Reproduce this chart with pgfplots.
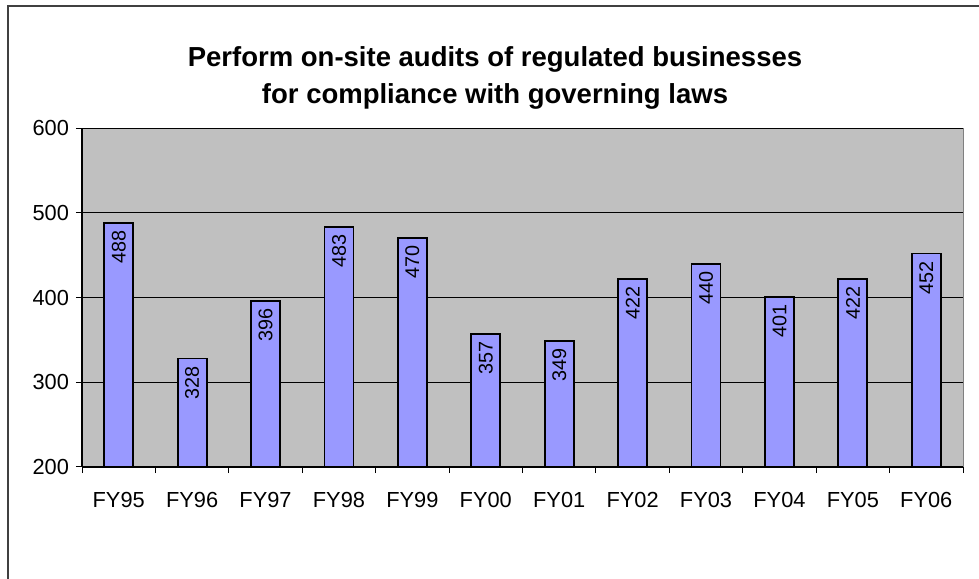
\documentclass[border=0pt]{standalone}
\usepackage{pgfplots}
\pgfplotsset{compat=1.18}
\usepackage{fontspec}
\setmainfont{Liberation Sans}
\definecolor{barblue}{HTML}{9999FF}
\definecolor{plotgrey}{HTML}{C0C0C0}
\definecolor{bordergrey}{HTML}{808080}
\begin{document}
\begin{tikzpicture}
\path[use as bounding box] (0,0) rectangle (489.5pt,289pt);
\draw[line width=1pt, draw=black!75] (4pt,-2pt) -- (4pt,286pt) -- (495pt,286pt);
\node[align=center, font=\fontsize{13.75pt}{18.5pt}\selectfont\bfseries] at (247.5pt,250pt)
  {Perform on-site audits of regulated businesses\\for compliance with governing laws};
\begin{axis}[
  at={(41pt,55.5pt)}, anchor=south west,
  scale only axis, width=440.5pt, height=169.5pt,
  xmin=-0.5, xmax=11.5, ymin=200, ymax=600,
  ytick={200,300,400,500,600},
  xtick={-0.5,0.5,...,11.5},
  x tick label as interval,
  xticklabels={FY95,FY96,FY97,FY98,FY99,FY00,FY01,FY02,FY03,FY04,FY05,FY06},
  tick align=outside, major tick length=3pt,
  tick style={black, line width=0.5pt},
  ymajorgrids, grid style={black, line width=0.5pt},
  axis background/.style={fill=plotgrey, draw=bordergrey},
  axis x line*=bottom, axis y line*=left,
  axis line style={black, line width=0.6pt, -},
  /pgf/number format/assume math mode=true,
  ticklabel style={font=\fontsize{10.9pt}{13pt}\selectfont},
  xticklabel style={yshift=-6pt},
  ybar, bar width=14.5pt,
  nodes near coords,
  every node near coord/.append style={rotate=90, anchor=east, font=\fontsize{9.9pt}{12pt}\selectfont, black},
]
\addplot[fill=barblue, draw=black, line width=0.9pt] coordinates {
(0,488) (1,328) (2,396) (3,483) (4,470) (5,357) (6,349) (7,422) (8,440) (9,401) (10,422) (11,452)};
\end{axis}
\end{tikzpicture}
\end{document}
